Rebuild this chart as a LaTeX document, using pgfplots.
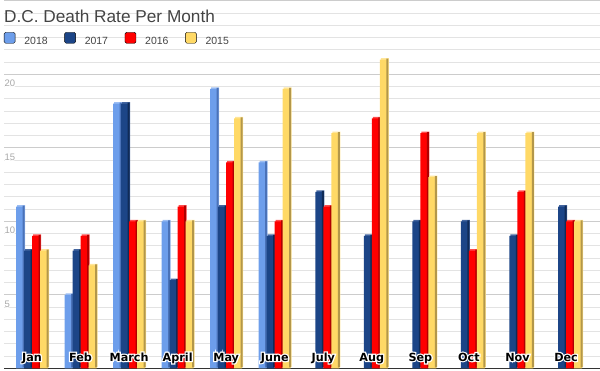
\documentclass[border=0pt]{standalone}
\usepackage{pgfplots}
\pgfplotsset{compat=1.18}
\usepackage{fontspec}
\setmainfont{Liberation Sans}
\newfontfamily\dejavu{DejaVu Sans}
\definecolor{c18}{HTML}{6D9EEB}
\definecolor{c18s}{HTML}{4A72B8}
\definecolor{c18t}{HTML}{9CBEF3}
\definecolor{c17}{HTML}{1C4587}
\definecolor{c17s}{HTML}{102B57}
\definecolor{c17t}{HTML}{4466A0}
\definecolor{c16}{HTML}{FF0000}
\definecolor{c16s}{HTML}{B00000}
\definecolor{c16t}{HTML}{FF4D4D}
\definecolor{c15}{HTML}{FFD966}
\definecolor{c15s}{HTML}{B3974A}
\definecolor{c15t}{HTML}{FFE69A}
\definecolor{majg}{HTML}{CCCCCC}
\definecolor{ming}{HTML}{E3E3E3}
\definecolor{titlec}{HTML}{444444}
\definecolor{tickc}{HTML}{A8A8A8}
\definecolor{axisc}{HTML}{333333}
\newcommand\halo[1]{%
\leavevmode
\rlap{\special{pdf:literal direct q 2 Tr 2.4 w 1 1 1 RG 1 1 1 rg}#1\special{pdf:literal direct Q}}%
{\color{black}#1}%
}
\newcommand\yhalo[1]{%
\leavevmode
\rlap{\special{pdf:literal direct q 2 Tr 1.6 w 1 1 1 RG 1 1 1 rg}#1\special{pdf:literal direct Q}}%
{\color{tickc}#1}%
}
\tikzset{mlab/.style={anchor=base, inner sep=0pt, yshift=7.3bp, font=\dejavu\bfseries\fontsize{11.25}{13}\selectfont}}
\begin{document}
\begin{tikzpicture}
\useasboundingbox (0,0) rectangle (600bp,371bp);
\begin{axis}[
  at={(4bp,2.7bp)}, anchor=south west,
  scale only axis, width=596bp, height=367.5bp,
  xmin=-0.577, xmax=11.70, ymin=0, ymax=25,
  axis x line*=bottom, axis y line*=left,
  x axis line style={-, draw=axisc, line width=1bp},
  y axis line style={draw=none},
  major tick length=0pt, minor tick length=0pt,
  xtick={0,...,11},
  xticklabels={},
  ytick={0,5,10,15,20,25},
  yticklabels={,\yhalo{5},\yhalo{10},\yhalo{15},\yhalo{20},},
  minor tick num=5,
  /pgf/number format/assume math mode=true,
  yticklabel style={anchor=north west, inner sep=0pt, xshift=0.5bp, yshift=-5.5bp, font=\fontsize{9.5}{11}\selectfont},
  ymajorgrids, yminorgrids,
  major grid style={draw=majg, line width=1bp},
  minor grid style={draw=ming, line width=1bp},
  legend columns=4,
  legend image code/.code={\path (0bp,0bp) (20bp,0bp); \fill[#1, rounded corners=1.5bp] (0bp,-1.7bp) rectangle (11bp,9.3bp);},
  legend style={at={(axis description cs:0,0.896)}, anchor=west, draw=none, fill=none, inner sep=0pt, outer sep=0pt, column sep=0pt, row sep=0pt, nodes={inner sep=0pt, outer sep=0pt}, font=\fontsize{10.5}{12}\selectfont, text=titlec},
]
\addlegendimage{fill=c18}\addlegendentry{\makebox[40bp][l]{2018}}
\addlegendimage{fill=c17}\addlegendentry{\makebox[40bp][l]{2017}}
\addlegendimage{fill=c16}\addlegendentry{\makebox[40bp][l]{2016}}
\addlegendimage{fill=c15}\addlegendentry{\makebox[40bp][l]{2015}}
% 2018
\addplot[ybar, bar width=8bp, bar shift=-11bp, yshift=1.5bp, fill=c18t, draw=none, forget plot] coordinates {(0,11) (1,5) (2,18) (3,10) (4,19) (5,14)};
\addplot[ybar, bar width=8bp, bar shift=-12bp, fill=c18, draw=none, forget plot] coordinates {(0,11) (1,5) (2,18) (3,10) (4,19) (5,14)};
\addplot[ybar, bar width=2bp, bar shift=-8.5bp, yshift=1bp, fill=c18s, draw=none, forget plot] coordinates {(0,11) (1,5) (2,18) (3,10) (4,19) (5,14)};
% 2017
\addplot[ybar, bar width=8bp, bar shift=-3bp, yshift=1.5bp, fill=c17t, draw=none, forget plot] coordinates {(0,8) (1,8) (2,18) (3,6) (4,11) (5,9) (6,12) (7,9) (8,10) (9,10) (10,9) (11,11)};
\addplot[ybar, bar width=8bp, bar shift=-4bp, fill=c17, draw=none, forget plot] coordinates {(0,8) (1,8) (2,18) (3,6) (4,11) (5,9) (6,12) (7,9) (8,10) (9,10) (10,9) (11,11)};
\addplot[ybar, bar width=2bp, bar shift=-0.5bp, yshift=1bp, fill=c17s, draw=none, forget plot] coordinates {(0,8) (1,8) (2,18) (3,6) (4,11) (5,9) (6,12) (7,9) (8,10) (9,10) (10,9) (11,11)};
% 2016
\addplot[ybar, bar width=8bp, bar shift=5bp, yshift=1.5bp, fill=c16t, draw=none, forget plot] coordinates {(0,9) (1,9) (2,10) (3,11) (4,14) (5,10) (6,11) (7,17) (8,16) (9,8) (10,12) (11,10)};
\addplot[ybar, bar width=8bp, bar shift=4bp, fill=c16, draw=none, forget plot] coordinates {(0,9) (1,9) (2,10) (3,11) (4,14) (5,10) (6,11) (7,17) (8,16) (9,8) (10,12) (11,10)};
\addplot[ybar, bar width=2bp, bar shift=7.5bp, yshift=1bp, fill=c16s, draw=none, forget plot] coordinates {(0,9) (1,9) (2,10) (3,11) (4,14) (5,10) (6,11) (7,17) (8,16) (9,8) (10,12) (11,10)};
% 2015
\addplot[ybar, bar width=8bp, bar shift=13bp, yshift=1.5bp, fill=c15t, draw=none, forget plot] coordinates {(0,8) (1,7) (2,10) (3,10) (4,17) (5,19) (6,16) (7,21) (8,13) (9,16) (10,16) (11,10)};
\addplot[ybar, bar width=8bp, bar shift=12bp, fill=c15, draw=none, forget plot] coordinates {(0,8) (1,7) (2,10) (3,10) (4,17) (5,19) (6,16) (7,21) (8,13) (9,16) (10,16) (11,10)};
\addplot[ybar, bar width=2bp, bar shift=15.5bp, yshift=1bp, fill=c15s, draw=none, forget plot] coordinates {(0,8) (1,7) (2,10) (3,10) (4,17) (5,19) (6,16) (7,21) (8,13) (9,16) (10,16) (11,10)};
% month labels
\node[mlab] at (axis cs:0,0) {\halo{Jan}};
\node[mlab] at (axis cs:1,0) {\halo{Feb}};
\node[mlab] at (axis cs:2,0) {\halo{March}};
\node[mlab] at (axis cs:3,0) {\halo{April}};
\node[mlab] at (axis cs:4,0) {\halo{May}};
\node[mlab] at (axis cs:5,0) {\halo{June}};
\node[mlab] at (axis cs:6,0) {\halo{July}};
\node[mlab] at (axis cs:7,0) {\halo{Aug}};
\node[mlab] at (axis cs:8,0) {\halo{Sep}};
\node[mlab] at (axis cs:9,0) {\halo{Oct}};
\node[mlab] at (axis cs:10,0) {\halo{Nov}};
\node[mlab] at (axis cs:11,0) {\halo{Dec}};
\end{axis}
\node[anchor=base west, inner sep=0pt, text=titlec, font=\fontsize{17.3}{20}\selectfont] at (4bp,348bp) {D.C. Death Rate Per Month};
\end{tikzpicture}
\end{document}
